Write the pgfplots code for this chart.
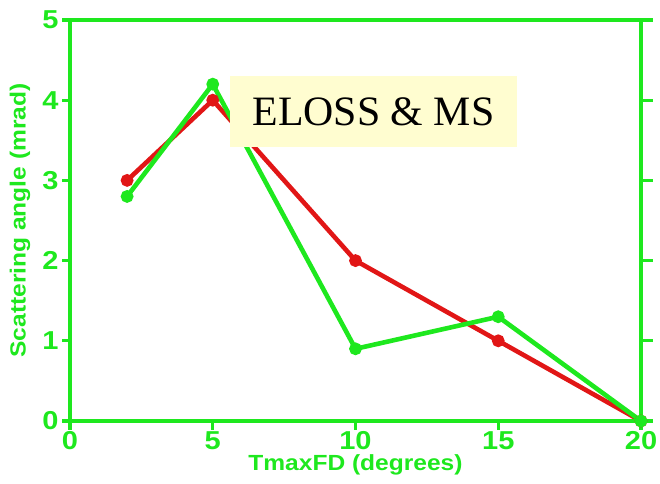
\documentclass[border=0pt]{standalone}
\usepackage{pgfplots}
\pgfplotsset{compat=1.18}
\usepackage{fontspec}
\setmainfont{Liberation Serif}
\newfontfamily\pawfont[FakeStretch=1.12]{Liberation Sans}
\definecolor{pawgreen}{RGB}{30,232,30}
\definecolor{pawred}{RGB}{225,22,22}
\definecolor{notebg}{RGB}{255,253,208}
\begin{document}
\begin{tikzpicture}
\path[use as bounding box] (-70bp,-63bp) rectangle (590bp,421bp);
\begin{axis}[
  x=28.55bp, y=80.2bp,
  xmin=0, xmax=20, ymin=0, ymax=5,
  axis line style={pawgreen},
  every tick/.style={pawgreen},
  major tick length=8bp,
  tick align=outside,
  xtick={0,5,10,15,20}, ytick={0,1,2,3,4,5},
  xtick pos=bottom, ytick pos=both,
  ticklabel style={font=\pawfont\bfseries\fontsize{26}{26}\selectfont, text=pawgreen},
  xticklabel style={yshift=1bp},
  yticklabel style={xshift=0bp},
  /pgf/number format/assume math mode=true,
  xlabel={TmaxFD (degrees)},
  ylabel={Scattering angle (mrad)},
  label style={font=\pawfont\bfseries\fontsize{22}{22}\selectfont, text=pawgreen},
  xlabel style={at={(axis description cs:0.5,-0.1097)}, anchor=center},
  ylabel style={at={(axis description cs:-0.0876,0.5)}, anchor=center},
  clip=false,
]
% energy loss only
\addplot[pawred, line width=4.6bp, mark=*, mark size=4bp, mark options={fill=pawred, draw=pawred}]
  coordinates {(2,3) (5,4) (10,2) (15,1) (20,0)};
% energy loss and multiple scattering
\addplot[pawgreen, line width=4.6bp, mark=*, mark size=4bp, mark options={fill=pawgreen, draw=pawgreen}]
  coordinates {(2,2.8) (5,4.2) (10,0.9) (15,1.3) (20,0)};
% heavy frame and ticks
\draw[pawgreen, line width=4bp] (rel axis cs:0,0) rectangle (rel axis cs:1,1);
\pgfplotsinvokeforeach{0,5,10,15,20}{
  \draw[pawgreen, line width=3.2bp] (axis cs:#1,0) -- ++(0,-9bp);}
\pgfplotsinvokeforeach{0,1,2,3,4,5}{
  \draw[pawgreen, line width=3.2bp] (axis cs:0,#1) -- ++(-8bp,0);
  \draw[pawgreen, line width=3.2bp] (axis cs:20,#1) -- ++(12bp,0);}
\node[fill=notebg, minimum width=287bp, minimum height=71bp, inner sep=0pt,
      font=\fontsize{42}{42}\selectfont] at (axis cs:10.63,3.86) {ELOSS \& MS};
\end{axis}
\end{tikzpicture}
\end{document}
